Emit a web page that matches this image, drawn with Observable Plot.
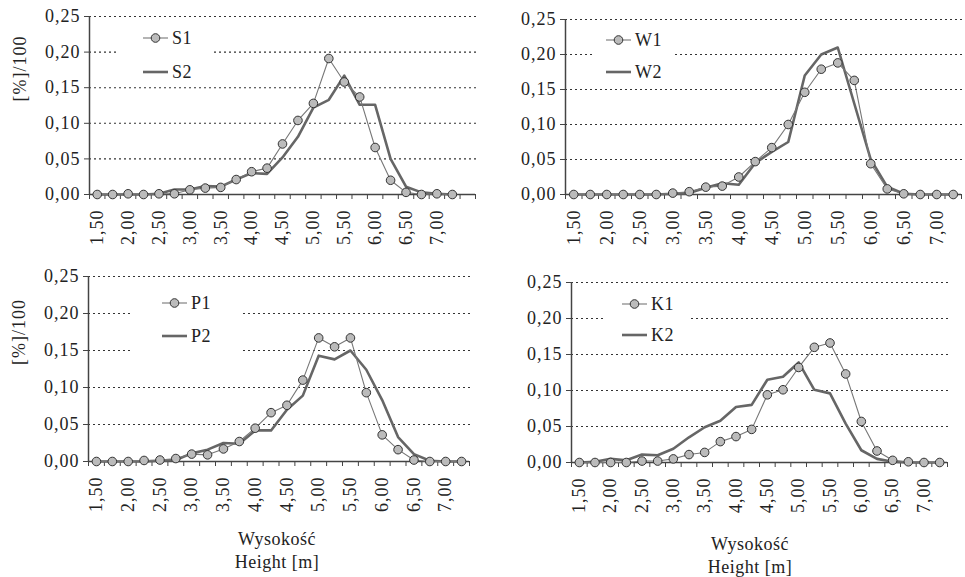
<!DOCTYPE html>
<html><head><meta charset="utf-8">
<script src="https://cdn.jsdelivr.net/npm/d3@7"></script>
<script src="https://cdn.jsdelivr.net/npm/@observablehq/plot@0.6"></script>
<style>
body{margin:0;background:#fff;}
#wrap{position:relative;width:965px;height:577px;font-family:"Liberation Serif","Times New Roman","DejaVu Serif",serif;color:#222;overflow:hidden;}
.panel{position:absolute;}
.panel svg, .panel svg text{font-family:"Liberation Serif","Times New Roman","DejaVu Serif",serif !important;}
.panel svg text{letter-spacing:1px;}
.legend{position:absolute;background:#fff;}
.item{position:absolute;display:flex;align-items:center;font-size:18px;height:20px;letter-spacing:0.6px;font-family:"Liberation Serif","Times New Roman",serif;}
.item svg{margin-right:4px;}
.xtitle{position:absolute;width:200px;text-align:center;font-size:18px;line-height:23px;font-family:"Liberation Serif","Times New Roman",serif;letter-spacing:0.5px;}
</style></head><body><div id="wrap"></div>
<script>
// Data
const heights = [1.50,1.75,2.00,2.25,2.50,2.75,3.00,3.25,3.50,3.75,4.00,4.25,4.50,4.75,5.00,5.25,5.50,5.75,6.00,6.25,6.50,6.75,7.00,7.25];
const xTickLabels = [1.5,2.0,2.5,3.0,3.5,4.0,4.5,5.0,5.5,6.0,6.5,7.0];
const yTicks = [0,0.05,0.10,0.15,0.20,0.25];
const S1 = [0,0,0.001,0,0.001,0.001,0.0066,0.009,0.010,0.021,0.032,0.037,0.071,0.104,0.128,0.191,0.158,0.137,0.066,0.020,0.003,0,0.001,0];
const S2 = [0,0,0,0,0.001,0.007,0.007,0.012,0.011,0.021,0.030,0.029,0.052,0.081,0.122,0.133,0.167,0.126,0.126,0.050,0.011,0.003,0.001,0];
const W1 = [0,0,0,0,0,0,0.002,0.004,0.0105,0.012,0.025,0.047,0.067,0.100,0.146,0.179,0.188,0.163,0.044,0.008,0.001,0,0,0];
const W2 = [0,0,0,0,0,0,0.001,0.002,0.0095,0.016,0.014,0.045,0.061,0.075,0.170,0.200,0.210,0.130,0.050,0.011,0.001,0,0,0];
const P1 = [0,0,0,0.0014,0.002,0.004,0.010,0.009,0.017,0.027,0.045,0.066,0.076,0.110,0.167,0.155,0.167,0.093,0.036,0.016,0.002,0,0,0];
const P2 = [0,0,0,0,0.001,0.002,0.011,0.016,0.025,0.024,0.042,0.042,0.070,0.089,0.143,0.138,0.150,0.124,0.083,0.033,0.010,0.001,0,0];
const K1 = [0,0,0,0,0.002,0.002,0.005,0.011,0.014,0.029,0.036,0.046,0.094,0.101,0.132,0.160,0.166,0.123,0.057,0.016,0.003,0.001,0,0];
const K2 = [0,0.001,0.005,0.003,0.011,0.010,0.019,0.035,0.049,0.058,0.077,0.080,0.115,0.119,0.139,0.101,0.096,0.054,0.017,0.005,0.001,0,0,0];
const yLabel = "[%]/100";
const xTitle = ["Wysokość", "Height [m]"];

// Layout
const panels = [
  {names:["S1","S2"], a:S1, b:S2, left:0, top:0, width:482, height:270, mt:16, mb:76, ml:89, mr:7, nCat:25, ylab:true,
   box:[118,22,94,62], sw:143, rows:[38,72]},
  {names:["W1","W2"], a:W1, b:W2, left:482, top:0, width:483, height:270, mt:19, mb:76, ml:83, mr:4, nCat:24, ylab:false,
   box:[593,24,80,62], sw:606, rows:[40,72]},
  {names:["P1","P2"], a:P1, b:P2, left:0, top:270, width:482, height:307, mt:6, mb:116, ml:88, mr:13, nCat:24, ylab:true,
   box:[130,284,110,72], sw:162, rows:[303,336]},
  {names:["K1","K2"], a:K1, b:K2, left:482, top:270, width:483, height:307, mt:12, mb:115, ml:89, mr:18, nCat:24, ylab:false,
   box:[603,290,87,58], sw:622, rows:[304,335]}
];

const fmt = d => d.toFixed(2).replace(".", ",");
const wrap = document.getElementById("wrap");

for (const p of panels) {
  const r1 = heights.map((h,i) => ({h, v: p.a[i]}));
  const r2 = heights.map((h,i) => ({h, v: p.b[i]}));
  const x0 = heights[0] - 0.125, x1 = x0 + p.nCat * 0.25;
  const bounds = d3.range(p.nCat + 1).map(k => x0 + k * 0.25);
  const marks = [
    Plot.ruleY(yTicks.slice(1), {y: d => d, stroke: "#333", strokeWidth: 1.1, strokeDasharray: "2,3", insetRight: -3}),
    Plot.axisY({ticks: yTicks, tickSize: 5, tickPadding: 4, tickFormat: fmt, stroke: "#444", fill: "#222", label: null}),
    Plot.axisX({ticks: bounds, tickSize: 5, tickFormat: () => "", stroke: "#444", label: null}),
    Plot.text(xTickLabels, {x: d => d, text: fmt, frameAnchor: "bottom", rotate: -90, textAnchor: "end", lineAnchor: "middle", dy: 15, fill: "#222"}),
    Plot.ruleX([x0], {stroke: "#444", strokeWidth: 1.5}),
    Plot.ruleY([0], {stroke: "#444", strokeWidth: 1.5}),
    Plot.line(r2, {x: "h", y: "v", stroke: "#666", strokeWidth: 2.6}),
    Plot.line(r1, {x: "h", y: "v", stroke: "#777", strokeWidth: 1.1}),
    Plot.dot(r1, {x: "h", y: "v", r: 4.3, fill: "#bbb", stroke: "#333", strokeWidth: 1})
  ];
  if (p.ylab) marks.push(Plot.text([yLabel], {frameAnchor: "left", dx: -69, dy: -4, rotate: -90, fill: "#222"}));
  const svg = Plot.plot({
    width: p.width, height: p.height,
    marginTop: p.mt, marginBottom: p.mb, marginLeft: p.ml, marginRight: p.mr,
    x: {domain: [x0, x1], axis: null},
    y: {domain: [0, 0.25], axis: null},
    style: {fontSize: "18px", background: "transparent", overflow: "visible"},
    marks
  });
  const div = document.createElement("div");
  div.className = "panel";
  div.style.left = p.left + "px"; div.style.top = p.top + "px";
  div.appendChild(svg);
  wrap.appendChild(div);

  // legend
  const box = document.createElement("div");
  box.className = "legend";
  box.style.left = p.box[0] + "px"; box.style.top = p.box[1] + "px";
  box.style.width = p.box[2] + "px"; box.style.height = p.box[3] + "px";
  wrap.appendChild(box);
  p.names.forEach((name, k) => {
    const it = document.createElement("div");
    it.className = "item";
    it.style.left = p.sw + "px"; it.style.top = (p.rows[k] - 10) + "px";
    const sw = k === 0
      ? '<svg width="25" height="12"><line x1="0" y1="6" x2="25" y2="6" stroke="#777" stroke-width="1.1"/><circle cx="12.5" cy="6" r="4.3" fill="#bbb" stroke="#333" stroke-width="1"/></svg>'
      : '<svg width="25" height="12"><line x1="0" y1="6" x2="25" y2="6" stroke="#666" stroke-width="2.6"/></svg>';
    it.innerHTML = sw + '<span>' + name + '</span>';
    wrap.appendChild(it);
  });
}

// x titles
[[177, 528], [650, 533]].forEach(([l, t]) => {
  const d = document.createElement("div");
  d.className = "xtitle";
  d.style.left = l + "px"; d.style.top = t + "px";
  d.innerHTML = xTitle[0] + "<br>" + xTitle[1];
  wrap.appendChild(d);
});
</script>
</body></html>
